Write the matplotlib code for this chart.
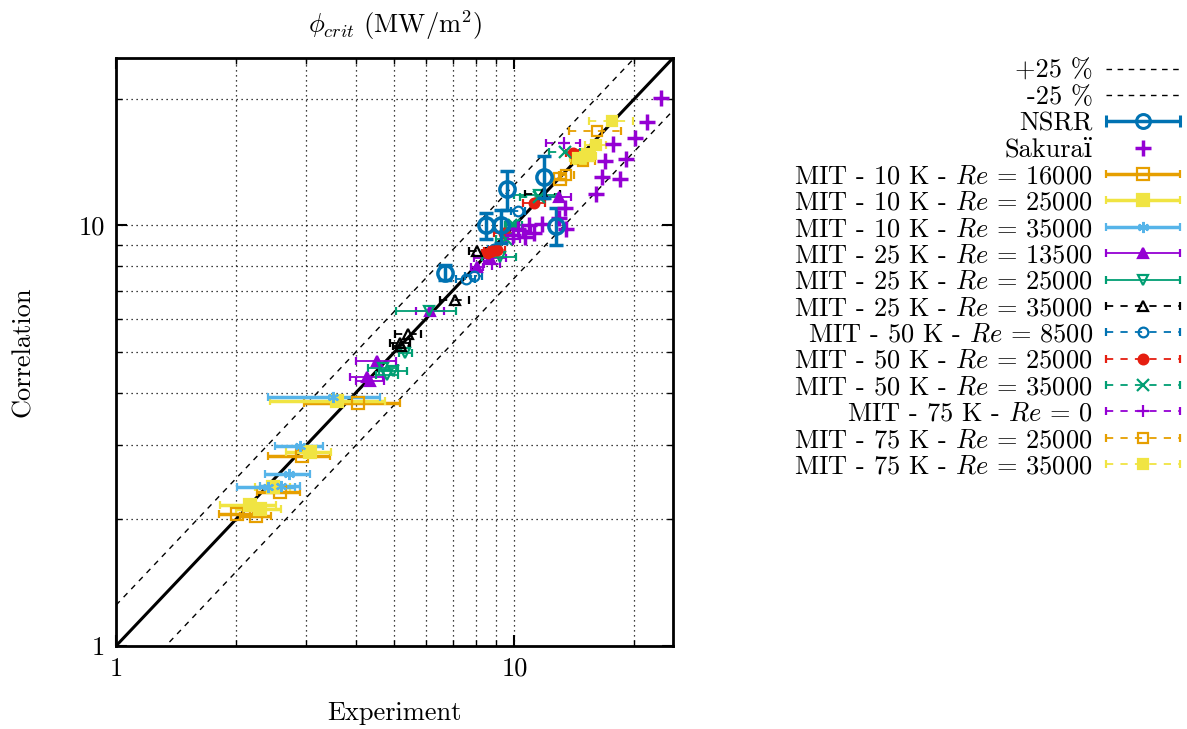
import numpy as np
import matplotlib
matplotlib.use("Agg")
import matplotlib.pyplot as plt
from matplotlib import ticker
from matplotlib.container import ErrorbarContainer
from matplotlib.legend_handler import HandlerErrorbar

plt.rcParams['font.family'] = ['cmr10', 'DejaVu Serif']
plt.rcParams['mathtext.fontset'] = 'cm'
plt.rcParams['axes.formatter.use_mathtext'] = True
plt.rcParams['font.size'] = 19

# NSRR (vertical error bars)
nsrr_x = [11.85, 9.59, 12.7, 8.46, 9.27, 6.71]
nsrr_y = [13.0, 12.2, 9.95, 10.0, 10.0, 7.71]
nsrr_ylo = [1.4, 1.3, 0.95, 0.7, 0.9, 0.3]
nsrr_yhi = [1.6, 1.3, 1.05, 0.7, 0.9, 0.35]

# Sakurai
sak_x = [23.3, 21.5, 20.1, 17.7, 19.1, 16.9, 16.6, 18.4, 16.0, 13.4, 12.9, 13.5,
         11.7, 10.9, 11.2, 10.2, 10.6, 9.9]
sak_y = [20.1, 17.6, 16.1, 15.6, 14.4, 14.2, 13.0, 12.9, 11.9, 11.0, 10.4, 9.8,
         10.1, 10.0, 9.6, 9.8, 9.4, 9.5]

# MIT series: x, y, xerr
mit_10k_16000_x = [4.06, 2.93, 2.58, 2.01, 2.25, 13.0]
mit_10k_16000_y = [3.78, 2.83, 2.32, 2.06, 2.04, 12.9]
mit_10k_16000_e = [1.1, 0.52, 0.32, 0.2, 0.2, 0.5]

mit_10k_25000_x = [3.59, 3.07, 2.17, 2.48, 2.3, 14.6, 15.3]
mit_10k_25000_y = [3.83, 2.89, 2.16, 2.39, 2.12, 14.5, 14.7]
mit_10k_25000_e = [1.15, 0.4, 0.35, 0.25, 0.3, 0.6, 0.6]

mit_10k_35000_x = [3.51, 2.9, 2.71, 2.41, 2.6]
mit_10k_35000_y = [3.9, 2.99, 2.57, 2.39, 2.4]
mit_10k_35000_e = [1.1, 0.4, 0.35, 0.4, 0.3]

mit_25k_13500_x = [4.52, 4.27, 4.35, 6.15, 8.06, 8.7, 12.9]
mit_25k_13500_y = [4.76, 4.35, 4.27, 6.27, 7.98, 8.36, 11.7]
mit_25k_13500_e = [0.52, 0.4, 0.35, 0.5, 0.3, 0.8, 1.0]

mit_25k_25000_x = [6.1, 5.32, 4.97, 4.69, 4.8, 9.2, 11.5]
mit_25k_25000_y = [6.27, 4.98, 4.5, 4.57, 4.4, 8.4, 11.8]
mit_25k_25000_e = [1.05, 0.2, 0.4, 0.4, 0.3, 0.9, 1.5]

mit_25k_35000_x = [11.8, 8.07, 7.11, 5.42, 5.17, 5.2]
mit_25k_35000_y = [11.9, 8.7, 6.63, 5.51, 5.26, 5.17]
mit_25k_35000_e = [1.2, 0.4, 0.6, 0.4, 0.3, 0.25]

mit_50k_8500_x = [7.55, 7.9, 8.9, 10.2]
mit_50k_8500_y = [7.45, 7.6, 8.8, 10.8]
mit_50k_8500_e = [0.4, 0.4, 0.3, 0.4]

mit_50k_25000_x = [14.0, 11.2, 9.4, 9.05, 8.8, 8.6]
mit_50k_25000_y = [14.9, 11.3, 9.6, 8.75, 8.7, 8.6]
mit_50k_25000_e = [0.5, 0.7, 0.5, 0.4, 0.4, 0.3]

mit_50k_35000_x = [13.4, 11.5, 9.95, 9.5, 9.8]
mit_50k_35000_y = [14.96, 11.7, 10.03, 9.3, 10.0]
mit_50k_35000_e = [1.2, 1.2, 0.5, 0.5, 0.3]

mit_75k_0_x = [13.3, 10.5, 9.9, 8.8]
mit_75k_0_y = [15.7, 9.7, 9.3, 8.1]
mit_75k_0_e = [1.3, 0.5, 0.4, 0.4]

mit_75k_25000_x = [16.1, 14.9, 13.5]
mit_75k_25000_y = [16.8, 14.2, 13.2]
mit_75k_25000_e = [2.4, 1.0, 0.6]

mit_75k_35000_x = [17.6, 16.0, 15.2, 14.4]
mit_75k_35000_y = [17.7, 15.5, 14.6, 14.5]
mit_75k_35000_e = [2.2, 1.0, 0.8, 0.6]

PURPLE = '#9400d3'
GREEN = '#009e73'
LBLUE = '#56b4e9'
ORANGE = '#e69f00'
YELLOW = '#f0e442'
BLUE = '#0072b2'
RED = '#e51e10'

fig = plt.figure(figsize=(11.87, 7.29), dpi=100)
ax = fig.add_axes([0.0977, 0.1139, 0.4693, 0.8065])
ax.set_xscale('log')
ax.set_yscale('log')
ax.set_xlim(1, 25)
ax.set_ylim(1, 25)

ax.grid(True, which='both', color='black', linestyle=(0, (1, 3)), linewidth=0.9)
ax.set_axisbelow(True)

xx = np.array([1, 25])
ax.plot(xx, xx, color='black', lw=2.2, zorder=2)
l_plus, = ax.plot(xx, 1.25 * xx, color='black', lw=1, ls=(0, (4, 4)), zorder=2)
l_minus, = ax.plot(xx, 0.75 * xx, color='black', lw=1, ls=(0, (4, 4)), zorder=2)

handles = [l_plus, l_minus]
labels = ['+25 %', '-25 %']

# NSRR
ax.errorbar(nsrr_x, nsrr_y, yerr=[nsrr_ylo, nsrr_yhi], fmt='o', color=BLUE,
            mfc='none', ms=11, mew=2.5, elinewidth=2.5, capsize=5, capthick=2.5, zorder=4)
h = ax.errorbar([np.nan], [np.nan], xerr=[1], fmt='o', color=BLUE, mfc='none',
                ms=10, mew=2.2, elinewidth=2.5, capsize=4, capthick=2.5)
handles.append(h)
labels.append('NSRR')

h, = ax.plot(sak_x, sak_y, '+', color=PURPLE, ms=12, mew=2.5, zorder=4)
handles.append(h)
labels.append('Sakura\u00ef')

asterisk = (6, 2, 0)
series = [
    (mit_10k_16000_x, mit_10k_16000_y, mit_10k_16000_e, ORANGE, 's', False, '-', 2.5, r'MIT - 10 K - $Re$ = 16000'),
    (mit_10k_25000_x, mit_10k_25000_y, mit_10k_25000_e, YELLOW, 's', True, '-', 2.5, r'MIT - 10 K - $Re$ = 25000'),
    (mit_10k_35000_x, mit_10k_35000_y, mit_10k_35000_e, LBLUE, asterisk, True, '-', 2.5, r'MIT - 10 K - $Re$ = 35000'),
    (mit_25k_13500_x, mit_25k_13500_y, mit_25k_13500_e, PURPLE, '^', True, '-', 1.3, r'MIT - 25 K - $Re$ = 13500'),
    (mit_25k_25000_x, mit_25k_25000_y, mit_25k_25000_e, GREEN, 'v', False, '-', 1.3, r'MIT - 25 K - $Re$ = 25000'),
    (mit_25k_35000_x, mit_25k_35000_y, mit_25k_35000_e, 'black', '^', False, '--', 1.3, r'MIT - 25 K - $Re$ = 35000'),
    (mit_50k_8500_x, mit_50k_8500_y, mit_50k_8500_e, BLUE, 'o', False, '--', 1.3, r'MIT - 50 K - $Re$ = 8500'),
    (mit_50k_25000_x, mit_50k_25000_y, mit_50k_25000_e, RED, 'o', True, '--', 1.3, r'MIT - 50 K - $Re$ = 25000'),
    (mit_50k_35000_x, mit_50k_35000_y, mit_50k_35000_e, GREEN, 'x', True, '--', 1.3, r'MIT - 50 K - $Re$ = 35000'),
    (mit_75k_0_x, mit_75k_0_y, mit_75k_0_e, PURPLE, '+', True, '--', 1.3, r'MIT - 75 K - $Re$ = 0'),
    (mit_75k_25000_x, mit_75k_25000_y, mit_75k_25000_e, ORANGE, 's', False, '--', 1.3, r'MIT - 75 K - $Re$ = 25000'),
    (mit_75k_35000_x, mit_75k_35000_y, mit_75k_35000_e, YELLOW, 's', True, '--', 1.3, r'MIT - 75 K - $Re$ = 35000'),
]

for x, y, e, c, m, filled, ls, lw, lab in series:
    ms = 8 if lw > 2 else 7
    if m == '+' or m == 'x':
        ms = 9
    h = ax.errorbar(x, y, xerr=e, fmt='', marker=m, linestyle='none', color=c,
                    mfc=c if filled else 'none', mec=c,
                    ms=ms, mew=1.6, elinewidth=lw, capsize=3, capthick=lw, zorder=3)
    if ls == '--':
        for bc in h[2]:
            bc.set_linestyle((0, (4, 4)))
    handles.append(h)
    labels.append(lab)

ax.xaxis.set_major_formatter(ticker.FormatStrFormatter('%g'))
ax.yaxis.set_major_formatter(ticker.FormatStrFormatter('%g'))
ax.xaxis.set_minor_formatter(ticker.NullFormatter())
ax.yaxis.set_minor_formatter(ticker.NullFormatter())
ax.tick_params(which='both', direction='in', top=True, right=True)
ax.tick_params(which='major', length=8, width=1.5, labelsize=19, pad=8)
ax.tick_params(which='minor', length=4, width=1)
for s in ax.spines.values():
    s.set_linewidth(2)

ax.set_xlabel('Experiment', fontsize=19, labelpad=15)
ax.set_ylabel('Correlation', fontsize=19, labelpad=31)
ax.set_title(r'$\phi_{crit}$ (MW/m$^2$)', fontsize=19, pad=18)

fig.legend(handles, labels, loc='upper right', bbox_to_anchor=(0.994, 0.919),
           bbox_transform=fig.transFigure, frameon=False, markerfirst=False,
           fontsize=19, handlelength=2.8, handletextpad=0.5, labelspacing=0.1,
           borderpad=0, borderaxespad=0,
           handler_map={ErrorbarContainer: HandlerErrorbar(xerr_size=1.4)})

fig.savefig('out.png', dpi=100)
